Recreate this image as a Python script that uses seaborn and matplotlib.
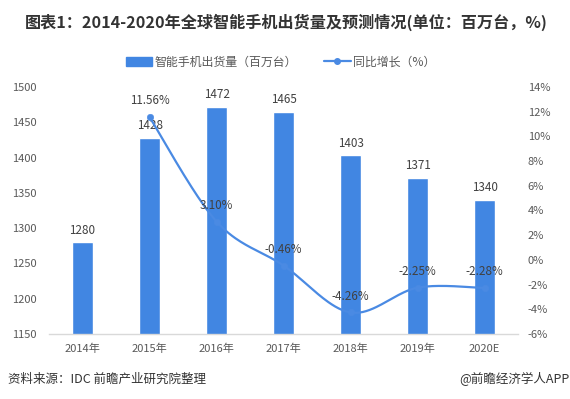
import numpy as np
import pandas as pd
import matplotlib
matplotlib.use("Agg")
import matplotlib.pyplot as plt
import seaborn as sns
from matplotlib.patches import Patch
from matplotlib.lines import Line2D

years = ["2014年", "2015年", "2016年", "2017年", "2018年", "2019年", "2020E"]
shipments = [1280, 1428, 1472, 1465, 1403, 1371, 1340]
growth_years = years[1:]
growth = [11.56, 3.10, -0.46, -4.26, -2.25, -2.28]
left_ticks = [1150, 1200, 1250, 1300, 1350, 1400, 1450, 1500]
right_ticks = [-6, -4, -2, 0, 2, 4, 6, 8, 10, 12, 14]

BAR = "#4186e2"
LINE = "#4a8ae3"
TXT = "#404040"
TICK = "#595959"


def smooth_curve(xs, ys, n=40):
    # Catmull-Rom style bezier, close to the office "smoothed line"
    pts = np.column_stack([xs, ys]).astype(float)
    out = []
    for i in range(len(pts) - 1):
        p0 = pts[i - 1] if i > 0 else pts[i]
        p1, p2 = pts[i], pts[i + 1]
        p3 = pts[i + 2] if i + 2 < len(pts) else pts[i + 1]
        c1 = p1 + (p2 - p0) / 6
        c2 = p2 - (p3 - p1) / 6
        t = np.linspace(0, 1, n)[:, None]
        seg = ((1 - t) ** 3) * p1 + 3 * ((1 - t) ** 2) * t * c1 + 3 * (1 - t) * t ** 2 * c2 + t ** 3 * p2
        out.append(seg if i == 0 else seg[1:])
    out = np.vstack(out)
    return out[:, 0], out[:, 1]


sns.set_style("white")
plt.rcParams["font.family"] = ["Noto Sans CJK SC", "DejaVu Sans"]

fig = plt.figure(figsize=(5.7, 3.99), dpi=100)
ax = fig.add_axes([0.086, 0.163, 0.823, 0.619])

df = pd.DataFrame({"year": years, "shipments": shipments})
sns.barplot(data=df, x="year", y="shipments", color=BAR, saturation=1, width=0.31, ax=ax)
ax.set_ylim(left_ticks[0], left_ticks[-1])
ax.set_yticks(left_ticks)
ax.set_xlim(-0.5, len(years) - 0.5)
ax.set_xlabel("")
ax.set_ylabel("")
for i, v in enumerate(shipments):
    ax.annotate(str(v), (i, v), xytext=(0, 4), textcoords="offset points",
                ha="center", va="bottom", fontsize=8.4, color=TXT)

ax2 = ax.twinx()
xpos = [years.index(y) for y in growth_years]
sx, sy = smooth_curve(xpos, growth)
ax2.plot(sx, sy, color=LINE, lw=1.6, solid_capstyle="round", zorder=3)
sns.scatterplot(x=xpos, y=growth, color=LINE, s=22, edgecolor=LINE, ax=ax2, zorder=4)
for x, v in zip(xpos, growth):
    ax2.annotate(f"{v:.2f}%", (x, v), xytext=(0, 7), textcoords="offset points",
                 ha="center", va="bottom", fontsize=8.4, color=TXT, zorder=5)
ax2.set_ylim(right_ticks[0], right_ticks[-1])
ax2.set_yticks(right_ticks)
ax2.set_yticklabels([f"{v}%" for v in right_ticks])

for a in (ax, ax2):
    for s in ("top", "left", "right", "bottom"):
        a.spines[s].set_visible(False)
    a.tick_params(length=0, labelsize=8, labelcolor=TICK)
ax.spines["bottom"].set_visible(True)
ax.spines["bottom"].set_color("#d9d9d9")
ax.spines["bottom"].set_linewidth(1)
ax.tick_params(axis="x", pad=7)
ax.tick_params(axis="y", pad=9)
ax2.tick_params(axis="y", pad=7)

fig.text(0.502, 1 - 22 / 399, "图表1：2014-2020年全球智能手机出货量及预测情况(单位：百万台，%)",
         ha="center", va="center", fontsize=11.6, fontweight="bold", color="#333333")

handles = [Patch(facecolor=BAR, edgecolor=BAR),
           Line2D([0], [0], color=LINE, lw=1.6, marker="o", markersize=4)]
fig.legend(handles, ["智能手机出货量（百万台）", "同比增长（%）"], loc="center",
           bbox_to_anchor=(0.492, 1 - 62 / 399), ncol=2, frameon=False, fontsize=8.6,
           handlelength=2.2, handletextpad=0.2, columnspacing=2.3, labelcolor=TICK)

fig.text(8 / 570, 1 - 379 / 399, "资料来源：IDC 前瞻产业研究院整理", ha="left", va="center",
         fontsize=9, color="#333333")
fig.text(1.0, 1 - 379 / 399, "@前瞻经济学人APP", ha="right", va="center",
         fontsize=9, color="#333333")

fig.savefig("out.png", dpi=100)
